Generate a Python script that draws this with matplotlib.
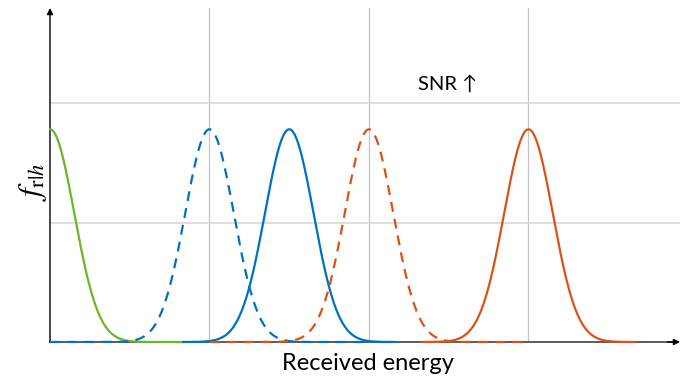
import numpy as np
import matplotlib
matplotlib.use("Agg")
import matplotlib.pyplot as plt

# Gaussian density curves of received energy, one per hypothesis / SNR level
centers = [0.0, 1.0, 1.5, 2.0, 3.0]
spreads = [0.152, 0.152, 0.152, 0.152, 0.152]
peak_height = [1.78, 1.78, 1.78, 1.78, 1.78]
x_start = [0.0, 0.0, 0.835, 1.0, 2.335]
x_stop = [0.835, 2.0, 2.165, 3.0, 3.665]
colors = ["#6DB52A", "#0072BD", "#0072BD", "#D95319", "#D95319"]
styles = ["-", "--", "-", "--", "-"]
x_grid = [1, 2, 3]
y_grid = [1, 2]

plt.rcParams["mathtext.fontset"] = "stix"

fig = plt.figure(figsize=(6.83, 3.78), dpi=100)
ax = fig.add_axes([50 / 683, 36 / 378, 630 / 683, 334 / 378])
ax.set_xlim(0, 3.95)
ax.set_ylim(0, 2.795)

for gx in x_grid:
    ax.axvline(gx, color="#c4c4c4", lw=0.9, zorder=0)
for gy in y_grid:
    ax.axhline(gy, color="#d6d6d6", lw=1.1, zorder=0)

for c, s, h, a, b, col, ls in zip(centers, spreads, peak_height, x_start, x_stop, colors, styles):
    x = np.linspace(a, b, 400)
    y = h * np.exp(-0.5 * ((x - c) / s) ** 2)
    kw = dict(dashes=(4.5, 3.2)) if ls == "--" else {}
    ax.plot(x, y, color=col, lw=1.6, ls=ls, zorder=3, clip_on=False, **kw)

for sp in ax.spines.values():
    sp.set_visible(False)
ax.set_xticks([])
ax.set_yticks([])

# axis arrows
ax.plot([0, 0.995], [0, 0], transform=ax.transAxes, color="#5a5a5a", lw=1.4,
        zorder=2, clip_on=False)
ax.annotate("", xy=(1.0, 0), xycoords="axes fraction", xytext=(0.98, 0),
            arrowprops=dict(arrowstyle="-|>", color="black", lw=1.0,
                            mutation_scale=9, shrinkA=0, shrinkB=0), zorder=4)
ax.annotate("", xy=(0, 1.0), xycoords="axes fraction", xytext=(0, 0),
            arrowprops=dict(arrowstyle="-|>", color="black", lw=1.0,
                            mutation_scale=9, shrinkA=0, shrinkB=0), zorder=2)

fig.text(368 / 683, 1 - 364 / 378, "Received energy", ha="center", va="center",
         fontsize=17, family=["Lato", "DejaVu Sans"])
fig.text(33 / 683, 1 - 182 / 378, r"$f_{\mathrm{r}|h}$", ha="center", va="center",
         rotation=90, fontsize=23)
fig.text(448 / 683, 1 - 84 / 378, "SNR ↑", ha="center", va="center",
         fontsize=14.5, family=["Lato", "DejaVu Sans"])

fig.savefig("out.png", dpi=100)
